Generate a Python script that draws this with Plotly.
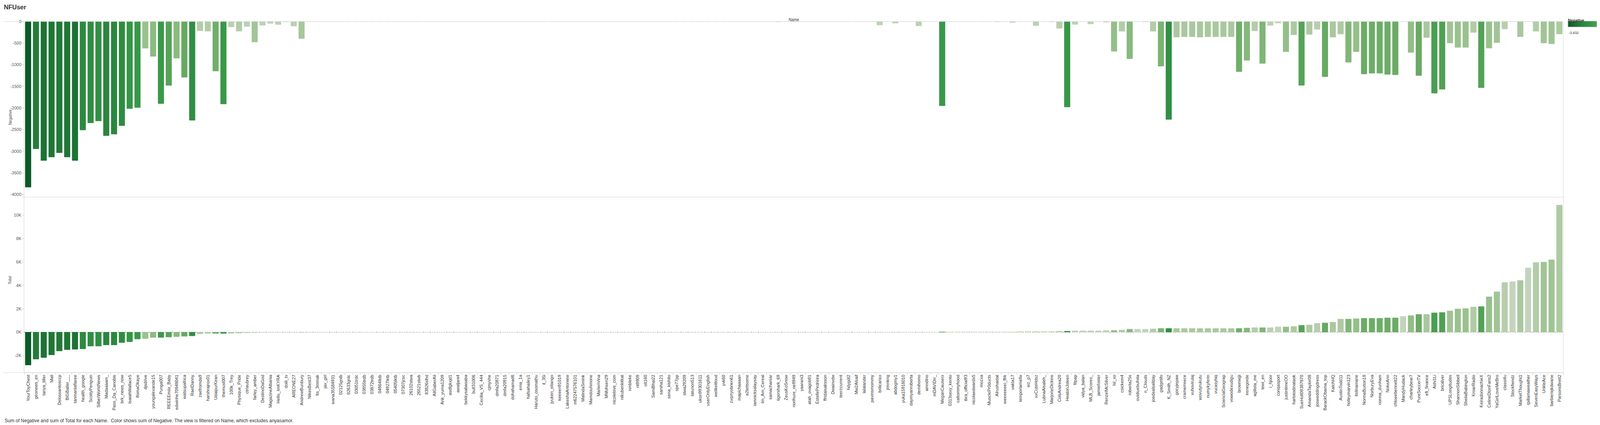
import plotly.graph_objects as go
from plotly.subplots import make_subplots

# names, sorted by Total (ascending) as in the view
names = [
    "YourToyChest", "geonews_en", "tanya_tiller", "Mali", "Delossantosccp", "BIGBaller___",
    "tanmanlaflaree", "health_google", "ScottyPenguin", "SilberWorldNews", "Madaaaam_",
    "Pass_Da_Canobis", "brk_news_now", "IsaiahWallace5", "IfomaOkaye", "djsdrive",
    "youngalexande15", "Punga007", "REEEEmiix_Baby", "edwinhe70948041", "watsupafrica",
    "RaelDanny", "zaefromda9", "harshrajrox01", "UdaipurKiran", "themust007", "100k_Trey",
    "Physique_Pride",
    "ctrlaubrey", "farley_amber", "DestinoDaGod", "MagazineAlbania", "Hello_ImKYRA", "doili_tv",
    "AREONE27", "AndrewBunbury", "NikesBest37", "Its_3mmak", "jav_girl", "wana35584931",
    "02125gnlb", "02633gnlc", "03051trdc", "03855trdb", "03872trdb", "04864lktb", "04927lktb",
    "05405lktb", "07307jcsc", "26102stwa", "26521stwb", "83826slhd", "AliGaberAli",
    "Ank_yuma1209", "asdfgkxjd1", "awaljani4", "bekkysabasaba", "butl31006",
    "Cecilia_VS_444", "cjmyxhe", "dmfa20871", "dmfa20915", "dohahamad6", "ema_1a",
    "hafsahailey1", "Haruto_osomathu", "il_35i", "jyuken_eitango", "keeeen91019",
    "LakeshaAntoniew", "m62247576101", "MalindaSmink", "Mamdouhmone", "MarlenVina", "MMohsen29",
    "nicolelove_com", "nikubenkitkat", "nmbleke", "nt9909", "olt160", "SamiBhai22", "sarsha121",
    "sena_kishito", "spe77pp", "stwa29209", "tatunori513", "ukon99301611", "userOnlyEnglish",
    "welikeitloud", "yvk60", "zvqrryobrien61", "mapichaaaan", "a2lettsome", "iamnicksalaysay",
    "Im_Am_Cereal", "samacharsar", "tigershark_69", "ZeusKoSnow", "norihure_ne8949", "yaarani3",
    "atah_ovagob91", "EstellePedreira", "ffridaisaksson", "Dwainvdw", "teerzcurrent", "hdygdt2",
    "Mw2Alsaif", "lalalander", "pavinsmommy", "brilicarixx", "jrmnkng", "abdogmy1",
    "yuka15918010", "daymyanroberta", "demihomo", "amndlno", "mDAVIDrr_", "MeganCauserx",
    "0313sexy_kento", "caltommyhood", "ibra_official93", "nicolaedwards5", "mozxa",
    "MusclePr0ducts", "Alrushaidat", "weeeeeeei_ffrk", "vakta17", "temporlarriefix", "wz_p7",
    "xxCuteHdsz", "LubnaAlsaleh_", "MarjorieDickins", "ColsAndrea20", "HeatonJoleen", "filpap",
    "vidya_balan", "MLB_Scores_", "jamiefoster", "RenzelMcSilver", "lsl_xo", "csickem4",
    "roberta25s", "ovidiuebufnila", "n_Clouds", "joedealsallday", "gadgetifo", "K_Smith_NZ",
    "gocyjepaw",
    "cramerreece", "vuhovirulaj", "wovutyrukutu", "numykyferin", "vucasyhiq", "ScienciaGeograp",
    "vowodexudigu", "browniejji", "irenegorde", "agilista_me", "tewi_en", "i_hjoor", "conqasport",
    "justintimeOO", "hartotodinataok", "SueHoll09387870", "AmandaTaylor08", "josweddingdress",
    "BarackObama_top", "KatchHQ", "AustinTodd11", "holleymarvin123", "itslinamarie",
    "NormaBurton18", "NorburyEva", "norma_dunham", "NokeAnn", "chloeebennett22", "MandyHudack",
    "charleybear7",
    "PureSoccerTV", "eft_finance", "Ashi1Li", "bricalver", "UPSLongitudes", "ShannonSibbell",
    "SheilaBabington", "KroarRadio", "KeiradonnachieX", "CelineDionFans2", "YaGirlLoveMeBro",
    "classi4u", "Stockfiendz", "MarketThought1", "rpillamaweather", "SevenEasyWays", "UnkleAce",
    "barbieriqkdwane", "ParsonsBrett2",
]

negative = [
    -3832, -2945, -3215, -3135, -3035, -3135, -3215, -2510, -2345, -2300,
    -2640, -2605, -2410, -2015, -1990, -618, -806, -1900, -1478, -850,
    -1290, -2285, -215, -224, -1147, -1908, -126, -224, -116, -475,
    -89, -45, -71, -9, -107, -394, 0, 0, 0, 0,
    0, 0, 0, 0, 0, 0, 0, 0, 0, 0,
    0, 0, 0, 0, 0, 0, 0, 0, 0, 0,
    0, 0, 0, 0, 0, 0, 0, 0, 0, 0,
    0, 0, 0, 0, 0, 0, 0, 0, 0, 0,
    0, 0, 0, 0, 0, 0, 0, 0, 0, 0,
    0, 0, 0, 0, 0, 0, -9, 0, 0, 0,
    0, 0, 0, 0, 0, 0, 0, 0, 0, -82,
    0, -39, 0, 0, -100, 0, 0, -1948, 0, 0,
    0, 0, 0, 0, -9, 0, -21, 0, 0, -94,
    0, -9, -157, -1978, -66, 0, -57, 0, -18, -690,
    -226, -861, 0, -9, -226, -1033, -2265, -362, -353, -353,
    -362, -353, -353, -353, -353, -1160, -897, -217, -969, -91,
    -36, -698, -308, -1477, -299, -181, -1277, -362, -290, -942,
    -698, -1214, -1196, -1196, -1223, -1232, 0, -716, -1250, -371,
    -1658, -1567, -498, -598, -598, -254, -1531, -616, -489, -172,
    0, -353, 0, -226, -498, -516, -290,
]

total = [
    -2809, -2304, -2169, -1944, -1607, -1495, -1461, -1427, -1191, -1191,
    -1090, -1090, -888, -820, -584, -551, -450, -450, -416, -382,
    -348, -315, -146, -112, -112, -112, -112, -79, -56, -22,
    -11, -11, -11, -11, -11, -11, -5, -5, -5, -5,
    1, 1, 1, 1, 1, 1, 1, 1, 1, 1,
    1, 1, 1, 1, 1, 1, 1, 1, 1, 1,
    1, 1, 1, 1, 1, 1, 1, 1, 1, 1,
    1, 1, 1, 1, 1, 1, 1, 1, 1, 1,
    1, 1, 1, 1, 1, 1, 1, 1, 1, 1,
    1, 2, 2, 2, 2, 2, 2, 2, 2, 2,
    4, 4, 4, 4, 4, 4, 4, 4, 4, 8,
    8, 8, 8, 8, 8, 8, 15, 22, 22, 22,
    22, 22, 22, 22, 22, 22, 22, 56, 56, 56,
    56, 56, 89, 89, 122, 122, 122, 122, 156, 156,
    189, 256, 256, 256, 289, 322, 322, 322, 322, 322,
    322, 322, 322, 322, 322, 322, 356, 389, 389, 389,
    456, 456, 489, 589, 623, 756, 790, 856, 1123, 1123,
    1156, 1190, 1190, 1190, 1223, 1223, 1357, 1423, 1523, 1523,
    1657, 1690, 1824, 1990, 2024, 2157, 2191, 3025, 3458, 4259,
    4326, 4426, 5493, 5960, 5994, 6194, 10864,
]

neg_ticks = [0, -500, -1000, -1500, -2000, -2500, -3000, -3500, -4000]
tot_ticks = [-2000, 0, 2000, 4000, 6000, 8000, 10000]
tot_ticktext = ["-2K", "0K", "2K", "4K", "6K", "8K", "10K"]

caption = ("Sum of Negative and sum of Total for each Name.  Color shows sum of Negative. "
           "The view is filtered on Name, which excludes anyasamor.")

W, H = 4146, 1087
ml, mr, mt, mb = 54, 152, 47, 142
pw = W - ml - mr
ph = H - mt - mb


def px_x(px):
    return (px - ml) / pw


def px_y(py):
    return (H - mb - py) / ph


FONT = "Liberation Sans, Arial, sans-serif"
greens = [[0.0, "#0b5a28"], [0.15, "#1c7234"], [0.3, "#2a853d"], [0.45, "#339446"],
          [0.52, "#3b9a49"], [0.65, "#62a75e"], [0.8, "#8fbd84"], [0.92, "#adc9a2"],
          [1.0, "#c3d4bc"]]
cmin, cmax = min(negative), 0

fig = make_subplots(rows=2, cols=1, shared_xaxes=True, vertical_spacing=0)


def bar_marker(show):
    m = dict(color=negative, colorscale=greens, cmin=cmin, cmax=cmax,
             line=dict(width=0.8, color=negative, colorscale=greens, cmin=cmin, cmax=cmax))
    if show:
        m["showscale"] = True
        m["colorbar"] = dict(orientation="h", x=px_x(4006), xanchor="left",
                             y=px_y(61.7), yanchor="bottom", len=124, lenmode="pixels",
                             thickness=15, outlinewidth=1, outlinecolor="#bbbbbb",
                             showticklabels=False, ticks="", xpad=0, ypad=0)
    return m


fig.add_trace(go.Bar(x=names, y=negative, marker=bar_marker(True), name="Negative"), row=1, col=1)
fig.add_trace(go.Bar(x=names, y=total, marker=bar_marker(False), name="Total"), row=2, col=1)

axis_style = dict(showgrid=False, zeroline=False, showline=True, linecolor="#d0d0d0",
                  ticks="outside", ticklen=4, tickcolor="#cccccc",
                  tickfont=dict(size=11, color="#555555", family=FONT))
fig.update_yaxes(range=[-4060, 0], tickvals=neg_ticks, ticktext=[str(v) for v in neg_ticks],
                 row=1, col=1, **axis_style)
fig.update_yaxes(range=[-3456, 11553], tickvals=tot_ticks, ticktext=tot_ticktext,
                 row=2, col=1, **axis_style)
fig.update_xaxes(type="category", showgrid=False, zeroline=False, row=1, col=1,
                 showticklabels=False, ticks="")
fig.update_xaxes(type="category", showgrid=False, zeroline=False, row=2, col=1,
                 tickangle=-90, ticks="outside", tickson="boundaries", ticklen=5,
                 tickcolor="#d0d0d0", showline=True, linecolor="#d0d0d0",
                 tickfont=dict(size=11, color="#333333", family=FONT))

line_col = "#d4d4d4"
shapes = [
    dict(type="line", xref="paper", yref="paper", x0=px_x(0), x1=1, y0=1, y1=1,
         line=dict(color=line_col, width=1)),
    dict(type="line", xref="paper", yref="paper", x0=px_x(47), x1=1, y0=0.5, y1=0.5,
         line=dict(color=line_col, width=1)),
    dict(type="line", xref="paper", yref="paper", x0=px_x(0), x1=1, y0=0, y1=0,
         line=dict(color=line_col, width=1)),
    dict(type="line", xref="paper", yref="paper", x0=1, x1=1, y0=0, y1=1,
         line=dict(color=line_col, width=1)),
    dict(type="line", xref="x2 domain", yref="y2", x0=0, x1=1, y0=0, y1=0, layer="below",
         line=dict(color="#555555", width=1, dash="dot")),
]

annotations = [
    dict(text="Name", x=px_x(2024), y=px_y(35), xref="paper", yref="paper", showarrow=False,
         font=dict(size=10, color="#333333", family=FONT)),
    dict(text="Negative", x=px_x(10), y=px_y(270), xref="paper", yref="paper", showarrow=False,
         textangle=-90, font=dict(size=10, color="#555555", family=FONT)),
    dict(text="Total", x=px_x(10), y=px_y(721), xref="paper", yref="paper", showarrow=False,
         textangle=-90, font=dict(size=10, color="#555555", family=FONT)),
    dict(text="<b>Negative</b>", x=px_x(4004), y=px_y(37), xref="paper", yref="paper",
         xanchor="left", showarrow=False, font=dict(size=10, color="#333333", family=FONT)),
    dict(text="-3,832", x=px_x(4006), y=px_y(69), xref="paper", yref="paper",
         xanchor="left", showarrow=False, font=dict(size=9, color="#333333", family=FONT)),
    dict(text="0", x=px_x(4128), y=px_y(69), xref="paper", yref="paper",
         xanchor="right", showarrow=False, font=dict(size=9, color="#333333", family=FONT)),
    dict(text=caption, x=px_x(2), y=px_y(1077), xref="paper", yref="paper",
         xanchor="left", showarrow=False, font=dict(size=12, color="#333333", family=FONT)),
]

fig.update_layout(
    width=W, height=H, autosize=False,
    margin=dict(l=ml, r=mr, t=mt, b=mb),
    paper_bgcolor="white", plot_bgcolor="white",
    bargap=0.27, showlegend=False,
    font=dict(family=FONT, color="#333333"),
    title=dict(text="<b>NFUser</b>", x=2 / W, xref="container", xanchor="left",
               y=1 - 10 / H, yanchor="middle",
               font=dict(size=16, color="#333333", family=FONT)),
    shapes=shapes, annotations=annotations,
)

fig.write_html("out.html")
